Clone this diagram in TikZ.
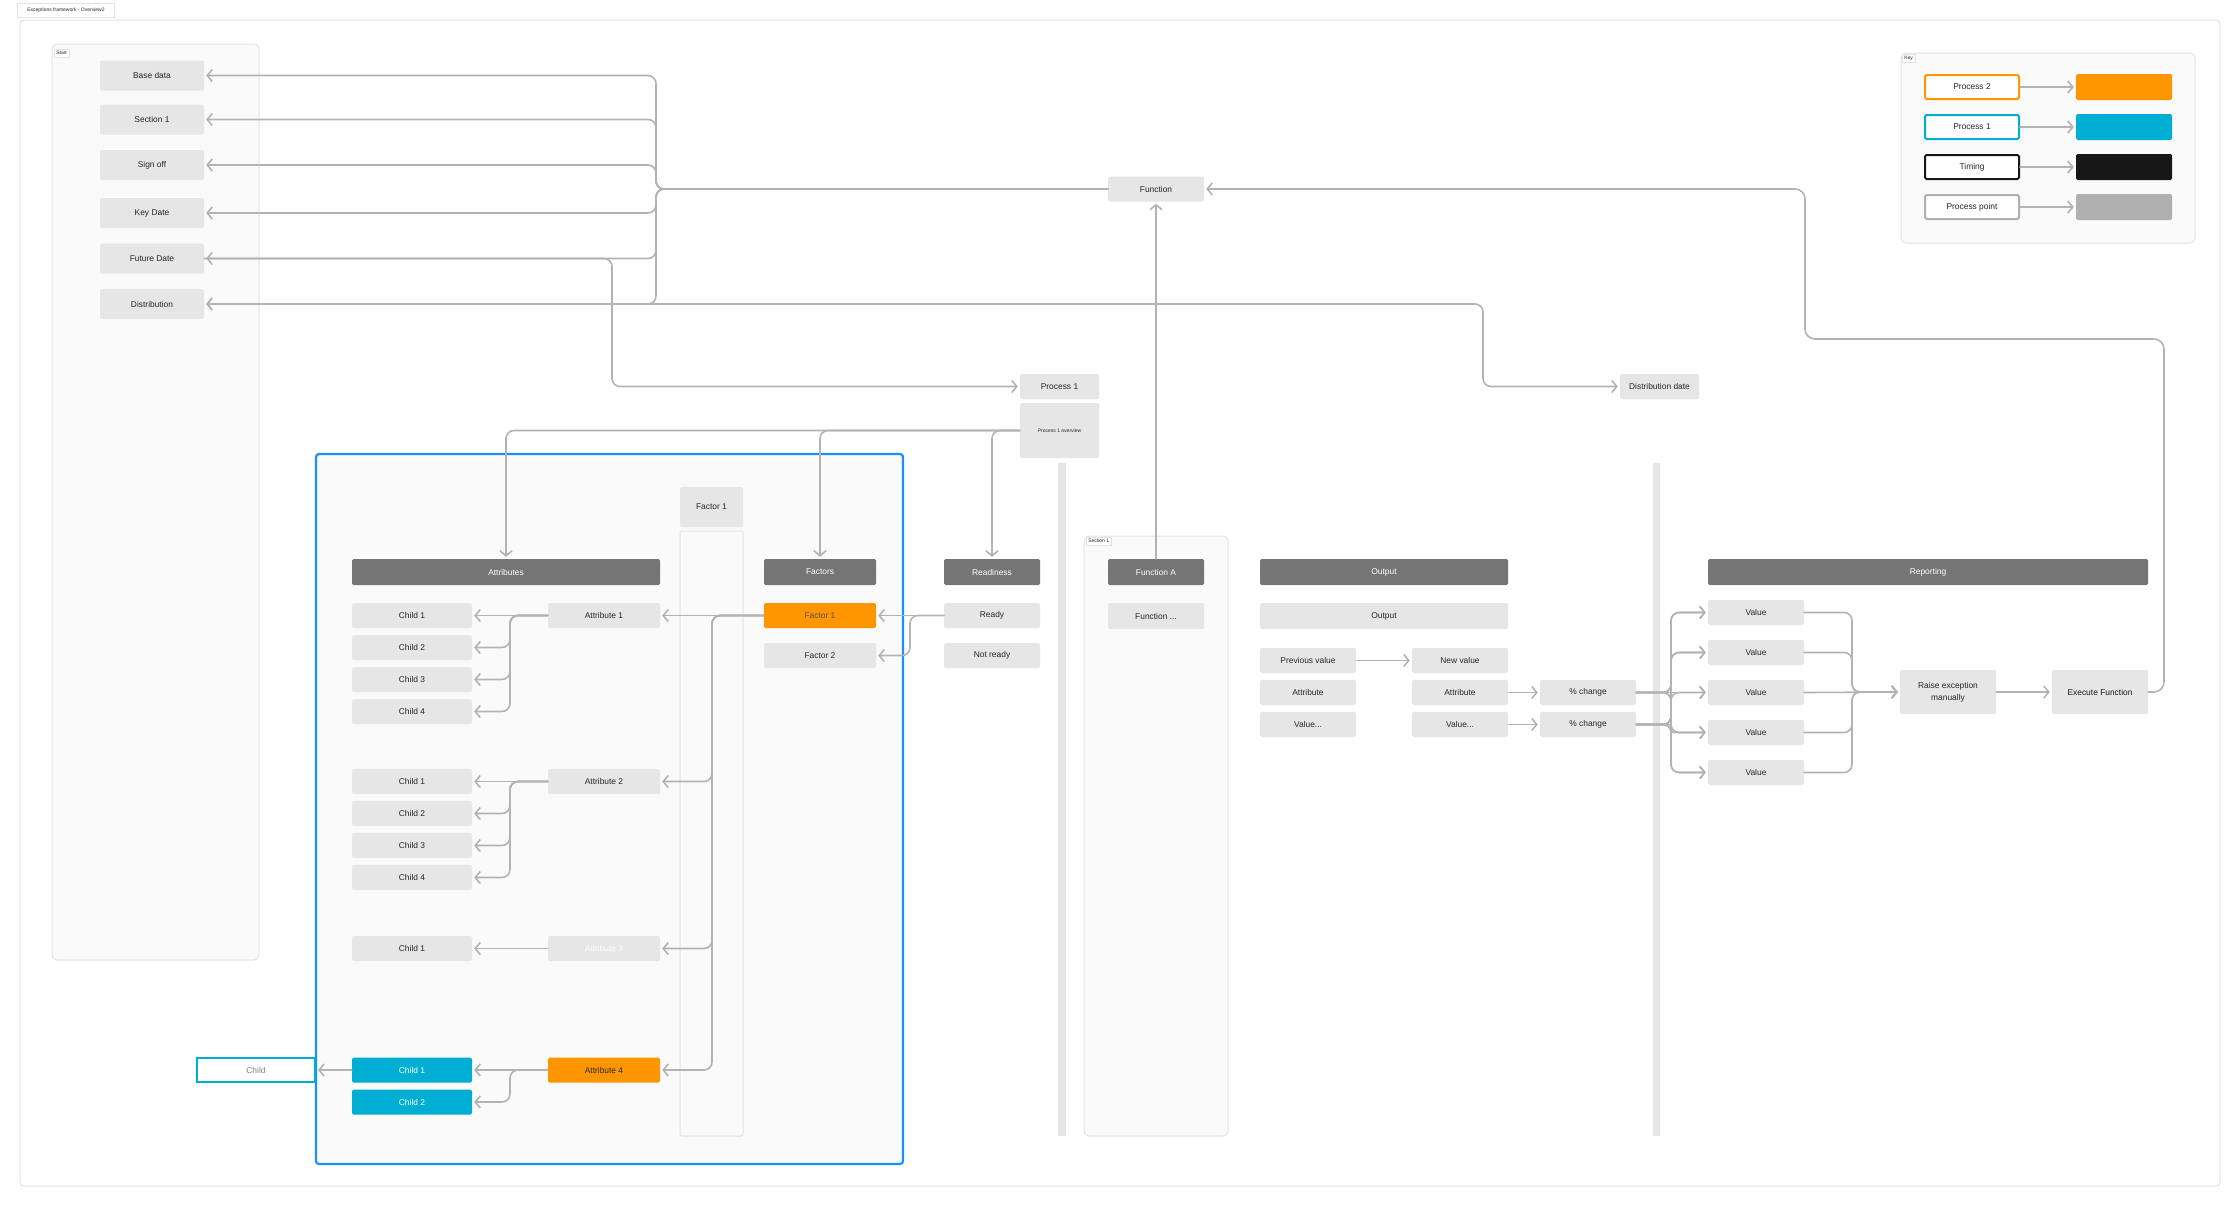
\documentclass[tikz,border=0pt]{standalone}
\usepackage{fontspec}
\setmainfont{Liberation Sans}
\usetikzlibrary{arrows.meta}
\definecolor{boxgray}{HTML}{E6E6E6}
\definecolor{hdrgray}{HTML}{757575}
\definecolor{lncol}{HTML}{B3B3B3}
\definecolor{orng}{HTML}{FF9500}
\definecolor{cyanb}{HTML}{00AED4}
\definecolor{pblue}{HTML}{1A8FFF}
\definecolor{panelfill}{HTML}{FAFAFA}
\definecolor{frameln}{HTML}{E3E3E3}
\definecolor{txt}{HTML}{262626}
\definecolor{blk}{HTML}{171717}
\definecolor{ptgray}{HTML}{B0B0B0}
\tikzset{
  lbl/.style={font=\fontsize{8.4}{10}\selectfont, text=txt},
  gbox/.style={lbl, fill=boxgray, minimum height=25pt, inner sep=0pt, rounded corners=1.5pt},
  hbox/.style={gbox, fill=hdrgray, text=white, minimum height=26pt},
  tiny/.style={font=\fontsize{5}{6}\selectfont, text=txt},
  tag/.style={tiny, draw=frameln, fill=white, line width=0.6pt, inner sep=2pt, anchor=north west},
  panel/.style={draw=frameln, fill=panelfill, line width=1pt, rounded corners=5pt},
  conn/.style={draw=lncol, line width=1.6pt, rounded corners=8pt, line cap=round,
    -{Straight Barb[length=5pt,width=12pt]}, shorten >=2pt},
  keyo/.style={lbl, draw=#1, fill=white, line width=2pt, minimum width=94pt, minimum height=24pt, inner sep=0pt, rounded corners=1.5pt},
  keyf/.style={fill=#1, minimum width=96pt, minimum height=26pt, inner sep=0pt, rounded corners=1.5pt}
}
\begin{document}
\begin{tikzpicture}[x=1pt,y=-1pt]
\useasboundingbox[fill=white] (0,0) rectangle (2240,1208);
% outer frame
\draw[draw=frameln, line width=1pt, rounded corners=4pt] (20,20) rectangle (2220,1186);
% title
\node[tiny, draw=frameln, line width=0.6pt, minimum width=97pt, minimum height=14pt, inner sep=0pt] (title) at (66,10) {Exceptions framework - Overview2};
% Start panel
\draw[panel] (52,44) rectangle (259,960);
\node[tag] (starttag) at (54,49) {Start};
\node[gbox, minimum width=104pt, minimum height=30pt] (sbase) at (152,75.5) {Base data};
\node[gbox, minimum width=104pt, minimum height=30pt] (ssec) at (152,119.5) {Section 1};
\node[gbox, minimum width=104pt, minimum height=30pt] (ssign) at (152,165) {Sign off};
\node[gbox, minimum width=104pt, minimum height=30pt] (skey) at (152,213) {Key Date};
\node[gbox, minimum width=104pt, minimum height=30pt] (sfut) at (152,258.5) {Future Date};
\node[gbox, minimum width=104pt, minimum height=30pt] (sdist) at (152,304) {Distribution};
% Key panel
\draw[panel] (1901,53) rectangle (2195,243);
\node[tag] (keytag) at (1902,54) {Key};
\node[keyo=orng] (k1) at (1972,87) {Process 2};
\node[keyo=cyanb] (k2) at (1972,127) {Process 1};
\node[keyo=blk] (k3) at (1972,167) {Timing};
\node[keyo=ptgray] (k4) at (1972,207) {Process point};
\node[keyf=orng] (kf1) at (2124,87) {};
\node[keyf=cyanb] (kf2) at (2124,127) {};
\node[keyf=blk] (kf3) at (2124,167) {};
\node[keyf=ptgray] (kf4) at (2124,207) {};
\foreach \i in {1,2,3,4} \draw[conn] (k\i.east) -- (kf\i.west);
% top nodes
\node[gbox, minimum width=96pt] (func) at (1156,189) {Function};
\node[gbox, minimum width=79pt] (p1) at (1059.5,386.5) {Process 1};
\node[gbox, minimum width=79pt, minimum height=55pt, tiny] (ov) at (1059.5,430.5) {Process 1 overview};
\node[gbox, minimum width=79pt] (ddate) at (1659.5,386.5) {Distribution date};
% blue panel
\draw[draw=pblue, fill=panelfill, line width=2.2pt, rounded corners=3pt] (316,454) rectangle (903,1164);
\node[gbox, minimum width=63pt, minimum height=40pt] (fac1top) at (711.5,507) {Factor 1};
\draw[draw=frameln, fill=panelfill, line width=1pt, rounded corners=2pt] (680,531) rectangle (743,1136);
% bars
\fill[boxgray] (1058,463) rectangle (1066,1136);
\fill[boxgray] (1653,463) rectangle (1660,1136);
% Section 1 panel
\draw[panel] (1084,536) rectangle (1228,1136);
\node[tag] (sectag) at (1086,537) {Section 1};
% headers
\node[hbox, minimum width=308pt] (attrh) at (506,572) {Attributes};
\node[hbox, minimum width=112pt] (facth) at (820,572) {Factors};
\node[hbox, minimum width=96pt] (readh) at (992,572) {Readiness};
\node[hbox, minimum width=96pt] (fa) at (1156,572) {Function A};
\node[hbox, minimum width=248pt] (outh) at (1384,572) {Output};
\node[hbox, minimum width=440pt] (reph) at (1928,572) {Reporting};
% attribute group 1
\node[gbox, minimum width=120pt] (g1c1) at (412,615.5) {Child 1};
\node[gbox, minimum width=120pt] (g1c2) at (412,647.5) {Child 2};
\node[gbox, minimum width=120pt] (g1c3) at (412,679.5) {Child 3};
\node[gbox, minimum width=120pt] (g1c4) at (412,711.5) {Child 4};
\node[gbox, minimum width=112pt] (a1) at (604,615.5) {Attribute 1};
% group 2
\node[gbox, minimum width=120pt] (g2c1) at (412,781.5) {Child 1};
\node[gbox, minimum width=120pt] (g2c2) at (412,813.5) {Child 2};
\node[gbox, minimum width=120pt] (g2c3) at (412,845.5) {Child 3};
\node[gbox, minimum width=120pt] (g2c4) at (412,877.5) {Child 4};
\node[gbox, minimum width=112pt] (a2) at (604,781.5) {Attribute 2};
% group 3
\node[gbox, minimum width=120pt] (g3c1) at (412,948.5) {Child 1};
\node[gbox, minimum width=112pt, text=white] (a3) at (604,948.5) {Attribute 3};
% group 4
\node[gbox, fill=cyanb, text=white, minimum width=120pt] (g4c1) at (412,1070) {Child 1};
\node[gbox, fill=cyanb, text=white, minimum width=120pt] (g4c2) at (412,1102) {Child 2};
\node[gbox, fill=orng, minimum width=112pt] (a4) at (604,1070) {Attribute 4};
\node[lbl, draw=cyanb, fill=white, line width=2pt, text=gray, minimum width=118pt, minimum height=24pt, inner sep=0pt] (childw) at (256,1070) {Child};
% factors / readiness
\node[gbox, fill=orng, text=txt!80, minimum width=112pt] (f1) at (820,615.5) {Factor 1};
\node[gbox, minimum width=112pt] (f2) at (820,655.5) {Factor 2};
\node[gbox, minimum width=96pt] (ready) at (992,615.5) {Ready};
\node[gbox, minimum width=96pt] (nready) at (992,655.5) {Not ready};
% function / output
\node[gbox, minimum width=96pt, minimum height=26pt] (fdots) at (1156,616) {Function ...};
\node[gbox, minimum width=248pt, minimum height=26pt] (outb) at (1384,616) {Output};
\node[gbox, minimum width=96pt] (prev) at (1308,660.5) {Previous value};
\node[gbox, minimum width=96pt] (newv) at (1460,660.5) {New value};
\node[gbox, minimum width=96pt] (attl) at (1308,692.5) {Attribute};
\node[gbox, minimum width=96pt] (attr) at (1460,692.5) {Attribute};
\node[gbox, minimum width=96pt] (vall) at (1308,724.5) {Value...};
\node[gbox, minimum width=96pt] (valr) at (1460,724.5) {Value...};
\node[gbox, minimum width=96pt] (pc1) at (1588,692.5) {\% change};
\node[gbox, minimum width=96pt] (pc2) at (1588,724.5) {\% change};
% reporting
\node[gbox, minimum width=96pt] (v1) at (1756,612.5) {Value};
\node[gbox, minimum width=96pt] (v2) at (1756,652.5) {Value};
\node[gbox, minimum width=96pt] (v3) at (1756,692.5) {Value};
\node[gbox, minimum width=96pt] (v4) at (1756,732.5) {Value};
\node[gbox, minimum width=96pt] (v5) at (1756,772.5) {Value};
\node[gbox, minimum width=96pt, minimum height=44pt, align=center, font=\fontsize{8.4}{12}\selectfont] (raise) at (1948,692) {Raise exception\\manually};
\node[gbox, minimum width=96pt, minimum height=44pt, text=blk] (exec) at (2100,692) {Execute Function};
% junction coordinates
\coordinate (jS) at (656,189);
\coordinate (jD) at (1483,0);
\coordinate (jF) at (612,0);
\coordinate (jA) at (712,0);
\coordinate (jC) at (510,0);
\coordinate (jR) at (910,0);
\coordinate (jV) at (1671,0);
\coordinate (jX) at (1852,0);
\coordinate (eR) at (2164,339);
\coordinate (eL) at (1805,339);
% Function -> start items
\foreach \n in {sbase,ssec,ssign,skey,sfut,sdist}
  \draw[conn] (func.west) -- (jS) -- (jS |- \n.east) -- (\n.east);
% Distribution <-> Distribution date
\draw[conn, {Straight Barb[length=5pt,width=12pt]}-{Straight Barb[length=5pt,width=12pt]}, shorten <=2pt] (sdist.east) -- (jD |- sdist.east) -- (jD |- ddate.west) -- (ddate.west);
% Future date -> Process 1
\draw[conn] (sfut.east) -- (jF |- sfut.east) -- (jF |- p1.west) -- (p1.west);
% overview -> headers
\draw[conn] (ov.west) -- (ov.west -| attrh.north) -- (attrh.north);
\draw[conn] (ov.west) -- (ov.west -| facth.north) -- (facth.north);
\draw[conn] (ov.west) -- (ov.west -| readh.north) -- (readh.north);
% Function A -> Function
\draw[conn] (fa.north) -- (func.south);
% Execute -> Function
\draw[conn, rounded corners=10pt] (exec.east) -- (exec.east -| eR) -- (eR) -- (eL) -- (eL |- func.east) -- (func.east);
% Factor 1 -> attributes
\draw[conn] (f1.west) -- (a1.east);
\foreach \n in {a2,a3,a4}
  \draw[conn] (f1.west) -- (jA |- f1.west) -- (jA |- \n.east) -- (\n.east);
% attributes -> children
\draw[conn] (a1.west) -- (g1c1.east);
\foreach \n in {g1c2,g1c3,g1c4}
  \draw[conn] (a1.west) -- (jC |- a1.west) -- (jC |- \n.east) -- (\n.east);
\draw[conn] (a2.west) -- (g2c1.east);
\foreach \n in {g2c2,g2c3,g2c4}
  \draw[conn] (a2.west) -- (jC |- a2.west) -- (jC |- \n.east) -- (\n.east);
\draw[conn] (a3.west) -- (g3c1.east);
\draw[conn] (a4.west) -- (g4c1.east);
\draw[conn] (a4.west) -- (jC |- a4.west) -- (jC |- g4c2.east) -- (g4c2.east);
\draw[conn] (g4c1.west) -- (childw.east);
% readiness -> factors
\draw[conn] (ready.west) -- (f1.east);
\draw[conn] (ready.west) -- (jR |- ready.west) -- (jR |- f2.east) -- (f2.east);
% output arrows
\draw[conn] (prev.east) -- (newv.west);
\draw[conn] (attr.east) -- (pc1.west);
\draw[conn] (valr.east) -- (pc2.west);
% % change -> values
\foreach \n in {v1,v2,v4,v5}
  \draw[conn] (pc1.east) -- (jV |- pc1.east) -- (jV |- \n.west) -- (\n.west);
\draw[conn] (pc1.east) -- (v3.west);
\foreach \n in {v1,v2,v3,v5}
  \draw[conn] (pc2.east) -- (jV |- pc2.east) -- (jV |- \n.west) -- (\n.west);
\draw[conn, rounded corners=3pt] (pc2.east) -- (jV |- pc2.east) -- (jV |- v4.west) -- (v4.west);
% values -> raise
\foreach \n in {v1,v2,v4,v5}
  \draw[conn] (\n.east) -- (jX |- \n.east) -- (jX |- raise.west) -- (raise.west);
\draw[conn] (v3.east) -- (raise.west);
\draw[conn] (raise.east) -- (exec.west);
\end{tikzpicture}
\end{document}
